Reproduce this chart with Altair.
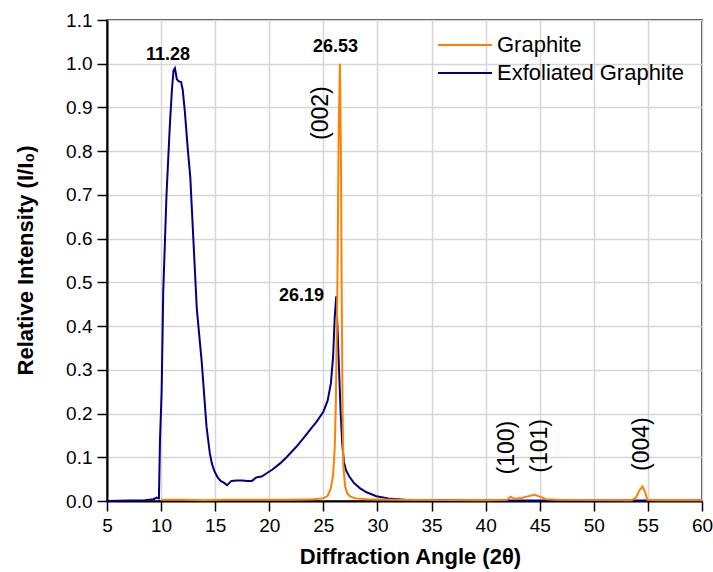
import altair as alt
import pandas as pd

# Exfoliated graphite pattern
exf_x = [5.0, 7.0, 8.5, 9.3, 9.6, 9.8, 9.9, 10.05, 10.2, 10.5, 10.8, 11.0, 11.15, 11.28,
         11.45, 11.6, 11.85, 12.0, 12.2, 12.45, 12.7, 13.0, 13.3, 13.75, 14.2, 14.5,
         14.7, 14.9, 15.2, 15.5, 15.8, 16.1, 16.5, 17.0, 17.5, 18.0, 18.4, 18.8, 19.3,
         19.8, 20.3, 21.0, 21.6, 22.5, 23.2, 23.8, 24.4, 25.0, 25.4, 25.7, 25.9, 26.05,
         26.19, 26.3, 26.45, 26.6, 26.75, 26.9, 27.1, 27.4, 27.8, 28.4, 29.0, 29.9,
         31.0, 32.5, 35.0, 40.0, 45.0, 50.0, 60.0]
exf_y = [0.000, 0.001, 0.002, 0.004, 0.008, 0.006, 0.14, 0.25, 0.48, 0.70, 0.855, 0.94,
         0.985, 0.990, 0.965, 0.960, 0.958, 0.940, 0.890, 0.810, 0.740, 0.590, 0.440,
         0.320, 0.170, 0.110, 0.085, 0.070, 0.055, 0.046, 0.042, 0.036, 0.046, 0.047,
         0.047, 0.046, 0.046, 0.054, 0.056, 0.064, 0.072, 0.086, 0.100, 0.124, 0.145,
         0.164, 0.182, 0.204, 0.230, 0.270, 0.330, 0.420, 0.468, 0.400, 0.300, 0.200,
         0.130, 0.090, 0.070, 0.056, 0.042, 0.029, 0.020, 0.011, 0.006, 0.003, 0.002,
         0.001, 0.001, 0.001, 0.001]

# Graphite pattern
gra_x = [10.0, 12.0, 14.0, 16.0, 18.0, 20.0, 22.0, 24.0, 25.0, 25.4, 25.7, 25.9, 26.05,
         26.15, 26.3, 26.42, 26.53, 26.62, 26.7, 26.78, 26.85, 27.0, 27.2, 27.5, 28.0,
         29.0, 32.0, 36.0, 40.0, 42.0, 42.3, 42.7, 43.3, 43.8, 44.5, 45.0, 45.6, 46.5,
         50.0, 53.5, 53.9, 54.2, 54.5, 54.75, 54.95, 56.0, 60.0]
gra_y = [0.003, 0.003, 0.002, 0.003, 0.003, 0.003, 0.003, 0.004, 0.006, 0.012, 0.030,
         0.060, 0.120, 0.220, 0.500, 0.850, 1.000, 0.800, 0.450, 0.200, 0.080, 0.035,
         0.018, 0.010, 0.006, 0.004, 0.003, 0.002, 0.002, 0.003, 0.010, 0.005, 0.007,
         0.010, 0.014, 0.010, 0.004, 0.003, 0.002, 0.002, 0.008, 0.024, 0.033, 0.020,
         0.003, 0.002, 0.002]

series_names = ["Graphite", "Exfoliated Graphite"]
series_colors = ["#FF8000", "#000080"]

peak_text = ["11.28", "26.53", "26.19"]
peak_x = [10.64, 26.12, 22.98]
peak_y = [1.020, 1.038, 0.468]

hkl_text = ["(002)", "(100)", "(101)", "(004)"]
hkl_x = [24.78, 42.02, 45.03, 54.41]
hkl_y = [0.887, 0.122, 0.126, 0.130]

x_ticks = [5 + 2.5 * i for i in range(23)]
y_ticks = [round(0.05 * i, 2) for i in range(23)]

FONT = "Liberation Sans"

df_exf = pd.DataFrame({"x": exf_x, "y": exf_y, "series": series_names[1]})
df_gra = pd.DataFrame({"x": gra_x, "y": gra_y, "series": series_names[0]})
df_peak = pd.DataFrame({"x": peak_x, "y": peak_y, "t": peak_text})
df_hkl = pd.DataFrame({"x": hkl_x, "y": hkl_y, "t": hkl_text})

x_major = "datum.value % 5 == 0"
y_major = "abs(datum.value * 10 - round(datum.value * 10)) < 0.001"

x_enc = alt.X(
    "x:Q",
    scale=alt.Scale(domain=[5, 60], nice=False, zero=False),
    axis=alt.Axis(
        values=x_ticks,
        title="Diffraction Angle (2θ)",
        labelExpr=f"{x_major} ? format(datum.value, 'd') : ''",
        tickSize={"condition": {"test": x_major, "value": 10}, "value": 7},
        gridOpacity={"condition": {"test": x_major, "value": 1}, "value": 0},
        labelOverlap=False,
        labelFlush=False,
        labelPadding=5,
        titleX=303,
        titleY=55,
        titleAlign="center",
        titleBaseline="middle",
    ),
)
y_enc = alt.Y(
    "y:Q",
    scale=alt.Scale(domain=[0, 1.1], nice=False, zero=False),
    axis=alt.Axis(
        values=y_ticks,
        title="Relative Intensity  (I/I₀)",
        labelExpr=f"{y_major} ? format(datum.value, '.1f') : ''",
        tickSize={"condition": {"test": y_major, "value": 10}, "value": 7},
        gridOpacity={"condition": {"test": y_major, "value": 1}, "value": 0},
        labelOverlap=False,
        labelPadding=5,
        titleX=-82,
        titleY=240,
        titleAngle=270,
        titleAlign="center",
        titleBaseline="middle",
    ),
)

color_scale = alt.Scale(domain=series_names, range=series_colors)

line_exf = alt.Chart(df_exf).mark_line(strokeWidth=2).encode(
    x=x_enc, y=y_enc, color=alt.Color("series:N", scale=color_scale, legend=None)
)
line_gra = alt.Chart(df_gra).mark_line(strokeWidth=2).encode(
    x="x:Q", y="y:Q", color=alt.Color("series:N", scale=color_scale, legend=None)
)
peaks = alt.Chart(df_peak).mark_text(
    font=FONT, fontSize=18, fontWeight="bold", color="black", baseline="middle"
).encode(x="x:Q", y="y:Q", text="t:N")
hkl = alt.Chart(df_hkl).mark_text(
    font=FONT, fontSize=23, color="black", angle=270, baseline="middle", align="center"
).encode(x="x:Q", y="y:Q", text="t:N")

# Legend (drawn as marks inside the plot, top right)
legend_layers = []
for i, (name, col) in enumerate(zip(series_names, series_colors)):
    ly = 25 + 28 * i
    legend_layers.append(
        alt.Chart(pd.DataFrame({"series": [name]})).mark_rule(
            color=col, strokeWidth=2
        ).encode(x=alt.value(331), x2=alt.value(385), y=alt.value(ly))
    )
    legend_layers.append(
        alt.Chart(pd.DataFrame({"series": [name]})).mark_text(
            font=FONT, fontSize=22, color="black", align="left", baseline="middle"
        ).encode(x=alt.value(390), y=alt.value(ly), text="series:N")
    )

chart = (
    alt.layer(line_exf, line_gra, peaks, hkl, *legend_layers)
    .properties(
        width=595,
        height=481,
        padding={"left": 107, "top": 20, "right": 11, "bottom": 71},
        autosize=alt.AutoSizeParams(type="none"),
        background="white",
    )
    .configure_view(stroke="black", strokeWidth=1.5)
    .configure_axis(
        domainColor="black",
        domainWidth=2,
        tickColor="black",
        tickWidth=1.5,
        gridColor="#d6d6d6",
        gridWidth=1.5,
        labelFont=FONT,
        labelFontSize=19,
        labelColor="black",
        titleFont=FONT,
        titleFontSize=22,
        titleFontWeight="bold",
        titleColor="black",
    )
)

chart.save("out.html", embed_options={"renderer": "svg", "actions": False})
